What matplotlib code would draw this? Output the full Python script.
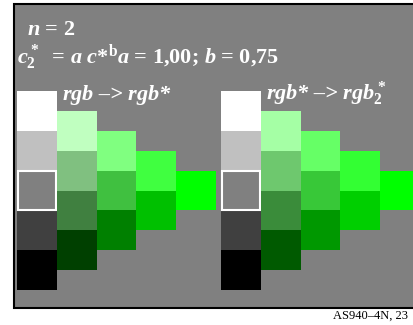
import matplotlib
matplotlib.use("Agg")
import matplotlib.pyplot as plt
from matplotlib.patches import Rectangle

# grey column (shared by both panels), top to bottom
grey_col = ["#ffffff", "#c0c0c0", "#808080", "#404040", "#000000"]

# green columns, top to bottom, for rgb -> rgb*
left_cols = [
    ["#c0ffc0", "#80c080", "#408040", "#004000"],
    ["#80ff80", "#40c040", "#008000"],
    ["#40ff40", "#00c000"],
    ["#00ff00"],
]

# green columns for rgb* -> rgb*_2
right_cols = [
    ["#a5ffa5", "#6ec86e", "#3a8c3a", "#005a00"],
    ["#66ff66", "#38c838", "#009800"],
    ["#33ff33", "#00cf00"],
    ["#00ff00"],
]

titles = ["$rgb$ \u2013> $rgb$*", "$rgb$* \u2013> $rgb^*_2$"]

plt.rcParams["mathtext.fontset"] = "custom"
plt.rcParams["mathtext.it"] = "Liberation Serif:italic:bold"
plt.rcParams["mathtext.rm"] = "Liberation Serif:bold"
plt.rcParams["mathtext.bf"] = "Liberation Serif:bold"

W, H = 414, 325
fig = plt.figure(figsize=(W / 100, H / 100), dpi=100)
ax = fig.add_axes([0, 0, 1, 1])
ax.set_xlim(0, W)
ax.set_ylim(H, 0)
ax.set_axis_off()

# grey background panel
ax.add_patch(Rectangle((14, 4), 420, 303.5, facecolor="#808080",
                       edgecolor="black", lw=1.5))

cell = 39.8
top = 91
fs = 16


def draw_panel(x0, cols, title):
    # grey column
    for i, c in enumerate(grey_col):
        ax.bar(x0, cell, width=cell, bottom=top + i * cell, align="edge",
               color=c, lw=0)
    ax.bar(x0 + 0.8, cell - 1.6, width=cell - 1.6, bottom=top + 2 * cell + 0.8,
           align="edge", color="none", edgecolor="white", lw=1.5)
    for j, col in enumerate(cols):
        y0 = top + (j + 1) * cell / 2
        for i, c in enumerate(col):
            ax.bar(x0 + (j + 1) * cell, cell, width=cell, bottom=y0 + i * cell,
                   align="edge", color=c, lw=0)
    ax.text(x0 + 45, 100, title, color="white", fontsize=fs,
            family="Liberation Serif", weight="bold", style="italic", va="baseline")


draw_panel(17, left_cols, titles[0])
draw_panel(221, right_cols, titles[1])

ax.text(27, 35, "$n$ = 2", color="white", fontsize=fs,
        family="Liberation Serif", weight="bold", va="baseline")
ax.text(17, 63, "$c^*_2$  = $a$ $c$*$^{\\rm b}$$a$ = 1,00; $b$ = 0,75", color="white",
        fontsize=fs, family="Liberation Serif", weight="bold", va="baseline")

ax.text(408, 319, "AS940\u20134N, 23", color="black", fontsize=9,
        family="Liberation Serif", ha="right", va="baseline")

fig.savefig("out.png", dpi=100)
